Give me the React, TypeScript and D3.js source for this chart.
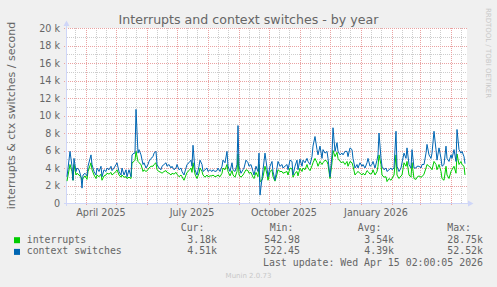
import * as React from 'react';
import * as d3 from 'd3';

const title = 'Interrupts and context switches - by year';
const yLabel = 'interrupts & ctx switches / second';
const watermark = 'RRDTOOL / TOBI OETIKER';
const version = 'Munin 2.0.73';
const lastUpdate = 'Last update: Wed Apr 15 02:00:05 2026';

const seriesNames = ['interrupts', 'context switches'];
const seriesColors = ['#00cc00', '#0066b3'];
const curValues = ['3.18k', '4.51k'];
const minValues = ['542.98', '522.45'];
const avgValues = ['3.54k', '4.39k'];
const maxValues = ['28.75k', '52.52k'];

// y ticks in thousands
const yTicks = [0, 2, 4, 6, 8, 10, 12, 14, 16, 18, 20];
const xLabelTexts = ['April 2025', 'July 2025', 'October 2025', 'January 2026'];
const xLabelDates = ['2025-04-16', '2025-07-16', '2025-10-16', '2026-01-16'];

// daily averages, day offset from 2025-03-13, values in thousands / second
const dayOffsets = [
  0, 3, 5, 6, 7, 9, 10, 12, 14, 15, 16, 18, 20, 21, 24, 25, 27, 29, 30, 32,
  34, 35, 37, 39, 40, 42, 44, 45, 47, 49, 50, 52, 54, 55, 57, 59, 60, 62, 64, 65,
  67, 68, 69, 71, 72, 74, 76, 77, 79, 81, 82, 84, 86, 87, 89, 90, 92, 94, 95, 97,
  99, 100, 102, 104, 105, 107, 109, 110, 112, 114, 115, 117, 119, 120, 122, 124, 125, 126, 128, 130,
  132, 133, 135, 136, 138, 140, 141, 143, 145, 146, 148, 150, 151, 153, 155, 156, 158, 160, 161, 163,
  165, 166, 168, 170, 171, 172, 174, 176, 177, 179, 181, 182, 184, 186, 187, 189, 191, 192, 193, 195,
  196, 198, 200, 201, 203, 205, 206, 208, 210, 211, 213, 215, 216, 218, 220, 221, 223, 225, 226, 228,
  230, 231, 233, 235, 236, 238, 240, 241, 243, 245, 246, 248, 250, 251, 253, 255, 256, 258, 260, 261,
  263, 265, 266, 268, 270, 271, 273, 275, 276, 278, 280, 281, 283, 285, 286, 288, 290, 291, 293, 295,
  296, 298, 300, 301, 303, 305, 306, 308, 310, 311, 312, 314, 315, 317, 319, 320, 322, 324, 325, 327,
  329, 330, 332, 334, 335, 337, 339, 340, 342, 344, 345, 347, 349, 350, 352, 354, 355, 357, 359, 360,
  362, 364, 365, 367, 369, 370, 372, 374, 375, 377, 379, 380, 382, 384, 385, 387, 389, 390, 392, 394,
  395, 397, 398,
];

const contextSwitches = [
  3.0, 5.9, 4.2, 2.6, 5.1, 3.6, 4.0, 3.8, 3.0, 1.7, 3.2, 3.4, 3.1, 4.2, 5.5, 4.4, 3.6, 3.2, 4.0, 3.6,
  4.2, 3.0, 3.8, 3.6, 4.0, 3.8, 4.2, 3.7, 4.0, 4.4, 4.6, 3.6, 3.2, 4.0, 3.2, 3.8, 3.0, 3.8, 3.0, 5.5,
  5.7, 5.7, 10.7, 5.7, 6.1, 5.5, 4.4, 4.6, 4.0, 4.4, 4.75, 5.1, 5.3, 5.7, 5.9, 4.4, 4.0, 3.8, 4.2, 4.4,
  4.6, 4.2, 4.4, 4.0, 4.2, 3.8, 4.0, 4.4, 3.8, 4.0, 3.6, 3.2, 4.0, 4.4, 4.6, 4.9, 4.2, 6.6, 3.8, 3.2,
  4.2, 4.9, 4.4, 3.6, 3.8, 4.0, 3.6, 3.8, 3.6, 3.8, 3.6, 3.7, 4.0, 3.6, 4.2, 4.9, 4.6, 5.9, 4.2, 3.6,
  4.6, 3.8, 3.6, 4.4, 8.85, 4.2, 3.4, 3.8, 4.0, 4.9, 4.6, 4.2, 4.4, 3.6, 3.2, 4.2, 3.6, 5.7, 0.9, 2.8,
  3.8, 5.7, 4.0, 3.0, 4.2, 4.75, 3.6, 2.6, 4.0, 4.75, 4.2, 4.4, 4.0, 4.2, 4.4, 3.8, 4.9, 4.75, 3.2, 4.2,
  4.9, 3.8, 5.0, 4.2, 4.9, 4.6, 5.1, 4.75, 4.4, 5.3, 6.5, 7.6, 6.1, 5.5, 6.5, 5.1, 6.1, 5.7, 5.9, 5.1,
  3.0, 5.5, 8.6, 5.9, 6.9, 5.9, 5.5, 5.7, 5.5, 5.9, 5.9, 5.3, 6.3, 6.1, 5.1, 4.0, 4.4, 4.0, 4.6, 4.2,
  4.4, 4.0, 4.6, 5.1, 4.2, 4.4, 4.75, 4.0, 4.9, 5.5, 8.0, 5.1, 4.2, 3.8, 4.0, 3.6, 3.8, 4.0, 3.8, 4.0,
  8.2, 4.2, 3.6, 4.0, 4.6, 5.7, 5.1, 6.3, 4.4, 4.0, 6.1, 4.0, 4.0, 4.2, 4.2, 4.0, 4.4, 4.4, 5.7, 6.7,
  5.5, 5.1, 5.7, 8.2, 6.1, 4.9, 6.3, 5.1, 4.2, 4.4, 6.5, 5.1, 4.75, 5.5, 5.1, 6.1, 4.75, 8.4, 6.1, 5.7,
  5.9, 5.3, 4.5,
];

const interrupts = [
  2.5, 4.4, 3.6, 2.6, 4.4, 3.2, 3.4, 3.2, 2.95, 2.6, 2.8, 3.1, 2.7, 3.6, 4.6, 3.8, 3.2, 2.8, 3.2, 3.0,
  3.3, 2.6, 3.1, 3.2, 3.4, 3.3, 3.5, 3.2, 3.4, 3.6, 3.8, 3.2, 2.95, 3.2, 2.95, 3.0, 2.8, 2.95, 2.8, 4.6,
  4.75, 4.9, 5.9, 4.75, 4.6, 4.4, 3.6, 3.8, 3.6, 3.8, 4.0, 4.2, 4.2, 4.4, 4.6, 3.8, 3.6, 3.5, 3.4, 3.6,
  3.7, 3.5, 3.4, 3.2, 3.4, 3.3, 3.5, 3.3, 3.0, 3.2, 3.0, 2.6, 3.2, 3.5, 3.7, 4.0, 3.5, 4.6, 3.3, 2.8,
  3.4, 4.0, 3.6, 3.2, 2.95, 3.2, 3.0, 3.1, 3.1, 3.2, 3.0, 3.1, 3.2, 3.0, 3.4, 4.0, 3.8, 4.4, 3.6, 3.1,
  3.7, 3.2, 2.95, 3.6, 5.6, 3.2, 2.95, 3.2, 3.4, 3.8, 3.7, 3.4, 3.5, 2.95, 2.8, 3.5, 3.0, 4.4, 2.45, 2.6,
  3.0, 4.2, 3.3, 2.6, 3.6, 3.8, 3.0, 2.5, 3.3, 3.8, 3.6, 3.6, 3.4, 3.5, 3.6, 3.2, 4.0, 3.9, 2.95, 3.4,
  3.6, 3.1, 4.0, 3.6, 4.0, 3.8, 4.4, 4.0, 3.7, 4.25, 4.6, 5.1, 4.6, 4.2, 4.75, 4.4, 4.6, 4.9, 4.75, 4.4,
  2.8, 4.6, 6.0, 5.3, 5.8, 5.1, 4.75, 4.6, 4.75, 4.4, 4.75, 4.2, 4.75, 4.6, 4.2, 3.2, 3.5, 3.6, 3.4, 3.2,
  3.4, 3.2, 3.7, 3.6, 3.3, 3.4, 3.8, 3.2, 3.6, 4.2, 5.5, 4.4, 3.2, 2.95, 3.0, 2.45, 2.8, 2.6, 2.8, 3.2,
  5.5, 3.2, 2.8, 3.1, 3.2, 4.6, 4.2, 4.75, 3.2, 2.95, 4.6, 2.8, 2.7, 2.95, 3.1, 2.95, 3.0, 3.3, 4.0, 4.4,
  4.2, 4.0, 3.8, 4.75, 4.4, 3.8, 4.4, 3.6, 2.8, 2.6, 4.2, 3.2, 2.8, 3.6, 3.8, 4.2, 3.4, 5.6, 4.4, 4.75,
  4.4, 4.2, 3.2,
];

const W = 497;
const H = 287;
const plot = { left: 67, right: 467, top: 28, bottom: 203 };
const startDate = new Date(2025, 2, 13);
const endDate = new Date(2026, 3, 17);

const fontColor = '#666666';
const axisColor = '#cfd6f8';
const gridMinor = '#cdcdcd';
const gridMajor = '#eaa2a2';
const sans = 'DejaVu Sans, sans-serif';
const mono = 'DejaVu Sans Mono, monospace';

export default function App() {
  const x = d3.scaleTime().domain([startDate, endDate]).range([plot.left, plot.right]);
  const y = d3.scaleLinear().domain([0, 20]).range([plot.bottom, plot.top]);

  const dates = dayOffsets.map(d => d3.timeDay.offset(startDate, d));
  const line = d3
    .line<number>()
    .x((_, i) => x(dates[i]))
    .y(d => y(d));

  const months = d3.timeMonth.range(startDate, endDate);
  const minorDays = d3.timeDay
    .every(10)!
    .range(startDate, endDate)
    .filter(d => d.getDate() === 11 || d.getDate() === 21);
  const minorY = d3.range(1, 20, 2);

  const px = (v: number) => Math.round(v) + 0.5;

  const legendRows = [242.7, 254.4];

  return (
    <svg
      width={W}
      height={H}
      style={{ position: 'absolute', left: 0, top: 0 }}
      xmlns="http://www.w3.org/2000/svg"
    >
      <rect x={0} y={0} width={W} height={H} fill="#f0f0f0" />
      <rect
        x={plot.left}
        y={plot.top}
        width={plot.right - plot.left}
        height={plot.bottom - plot.top}
        fill="#ffffff"
      />

      {/* minor grid */}
      <g stroke={gridMinor} strokeWidth={1} strokeDasharray="1,1" fill="none">
        {minorDays.map(d => (
          <line key={'mx' + d.getTime()} x1={px(x(d))} x2={px(x(d))} y1={plot.top} y2={plot.bottom} />
        ))}
        {minorY.map(v => (
          <line key={'my' + v} x1={plot.left} x2={plot.right} y1={px(y(v))} y2={px(y(v))} />
        ))}
      </g>

      {/* major grid */}
      <g stroke={gridMajor} strokeWidth={1} strokeDasharray="1,1" fill="none">
        {months.map(d => (
          <line key={'Mx' + d.getTime()} x1={px(x(d))} x2={px(x(d))} y1={plot.top} y2={plot.bottom + 3} />
        ))}
        {yTicks.slice(1).map(v => (
          <line key={'My' + v} x1={plot.left - 3} x2={plot.right} y1={px(y(v))} y2={px(y(v))} />
        ))}
      </g>

      {/* axes */}
      <g stroke={axisColor} strokeWidth={1}>
        <line x1={plot.left - 0.5} x2={plot.left - 0.5} y1={plot.bottom + 3} y2={24} />
        <line x1={plot.left - 3} x2={469} y1={plot.bottom + 0.5} y2={plot.bottom + 0.5} />
      </g>
      <g fill={axisColor}>
        <polygon points={`${plot.left - 3.5},26 ${plot.left + 2.5},26 ${plot.left - 0.5},20.5`} />
        <polygon points={`468,200.5 468,206.5 473.5,203.5`} />
      </g>

      {/* series */}
      <path d={line(interrupts) ?? ''} fill="none" stroke={seriesColors[0]} strokeWidth={1} />
      <path d={line(contextSwitches) ?? ''} fill="none" stroke={seriesColors[1]} strokeWidth={1} />

      {/* y tick labels */}
      <g fontFamily={sans} fontSize={9.6} fill={fontColor} textAnchor="end">
        {yTicks.map(v => (
          <text key={'yl' + v} x={60} y={y(v) + 3.5}>
            {v === 0 ? '0' : `${v} k`}
          </text>
        ))}
      </g>

      {/* x tick labels */}
      <g fontFamily={sans} fontSize={9.6} fill={fontColor} textAnchor="middle">
        {xLabelTexts.map((t, i) => (
          <text key={t} x={x(new Date(xLabelDates[i] + 'T00:00:00'))} y={215.5}>
            {t}
          </text>
        ))}
      </g>

      <text x={248.5} y={24} fontFamily={sans} fontSize={12.6} fill={fontColor} textAnchor="middle">
        {title}
      </text>
      <text
        transform={`translate(15,${(plot.top + plot.bottom) / 2}) rotate(-90)`}
        fontFamily={sans}
        fontSize={11}
        fill={fontColor}
        textAnchor="middle"
      >
        {yLabel}
      </text>
      <text
        transform="translate(486,53) rotate(90)"
        fontFamily={sans}
        fontSize={7}
        fill="#c8c8c8"
        textAnchor="middle"
      >
        {watermark}
      </text>

      {/* legend */}
      <g fontFamily={mono} fontSize={9.9} fill={fontColor}>
        <text x={204.5} y={231} textAnchor="end">Cur:</text>
        <text x={293.5} y={231} textAnchor="end">Min:</text>
        <text x={381.5} y={231} textAnchor="end">Avg:</text>
        <text x={471} y={231} textAnchor="end">Max:</text>
        {seriesNames.map((n, i) => (
          <g key={n}>
            <rect x={14} y={legendRows[i] - 5.5} width={6} height={6} fill={seriesColors[i]} />
            <text x={26.7} y={legendRows[i]}>{n}</text>
            <text x={217} y={legendRows[i]} textAnchor="end">{curValues[i]}</text>
            <text x={300} y={legendRows[i]} textAnchor="end">{minValues[i]}</text>
            <text x={394} y={legendRows[i]} textAnchor="end">{avgValues[i]}</text>
            <text x={483} y={legendRows[i]} textAnchor="end">{maxValues[i]}</text>
          </g>
        ))}
        <text x={483} y={266} textAnchor="end">{lastUpdate}</text>
      </g>
      <text x={248.5} y={278} fontFamily={sans} fontSize={7} fill="#c8c8c8" textAnchor="middle">
        {version}
      </text>
    </svg>
  );
}
